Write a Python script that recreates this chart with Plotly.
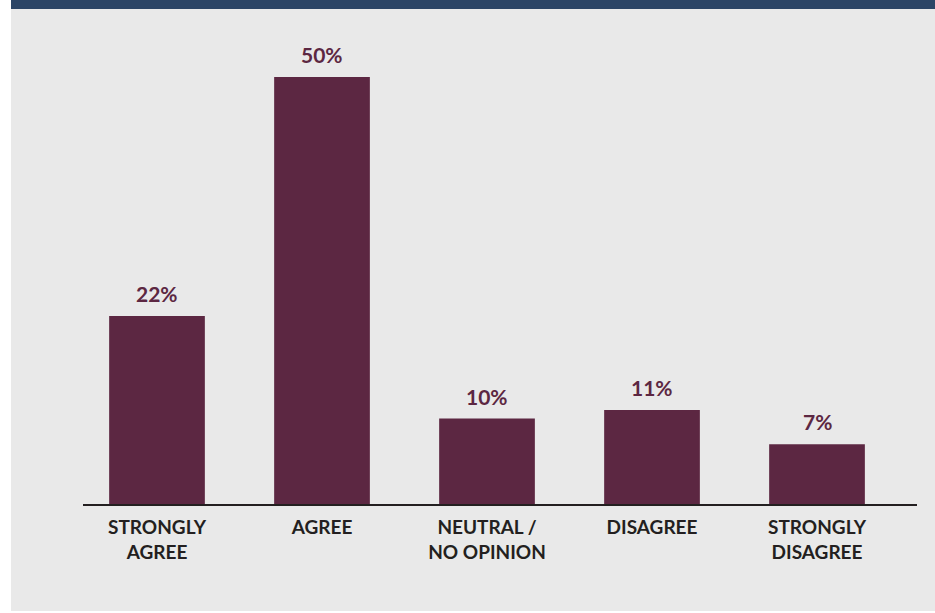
import plotly.graph_objects as go

categories = ["STRONGLY<br>AGREE", "AGREE", "NEUTRAL /<br>NO OPINION", "DISAGREE", "STRONGLY<br>DISAGREE"]
values = [22, 50, 10, 11, 7]
value_labels = ["22%", "50%", "10%", "11%", "7%"]

bar_color = "#5c2742"
panel_color = "#e9e9e9"
band_color = "#2c4566"

fig = go.Figure()
fig.add_trace(go.Bar(
    x=list(range(len(categories))), y=values,
    marker=dict(color=bar_color, line=dict(width=0)),
    width=0.58, hoverinfo="skip",
))

for i, (v, lab) in enumerate(zip(values, value_labels)):
    fig.add_annotation(x=i, y=v, text=f"<b>{lab}</b>", showarrow=False,
                       yanchor="bottom", yshift=8,
                       font=dict(family="Lato", size=21, color=bar_color))

fig.update_layout(
    width=935, height=613,
    margin=dict(l=83, r=18, t=30, b=109),
    paper_bgcolor="white", plot_bgcolor="rgba(0,0,0,0)",
    showlegend=False,
    shapes=[
        dict(type="rect", xref="paper", yref="paper", layer="below",
             x0=-72/834, x1=1 + 18/834, y0=-107/474, y1=1 + 21/474,
             fillcolor=panel_color, line=dict(width=0)),
        dict(type="rect", xref="paper", yref="paper", layer="below",
             x0=-72/834, x1=1 + 18/834, y0=1 + 21/474, y1=1 + 30/474,
             fillcolor=band_color, line=dict(width=0)),
    ],
)
fig.update_xaxes(
    range=[-0.4485, 4.606],
    tickmode="array", tickvals=list(range(len(categories))),
    ticktext=[f"<b>{c}</b>" for c in categories],
    tickfont=dict(family="Lato", size=19, color="#231f20"),
    showline=True, linecolor="#231f20", linewidth=2,
    ticks="outside", ticklen=5, tickcolor="rgba(0,0,0,0)",
    showgrid=False, zeroline=False, fixedrange=True,
)
fig.update_yaxes(range=[0, 55.5], visible=False, showgrid=False, zeroline=False, fixedrange=True)

fig.write_html("out.html", config={"displayModeBar": False, "staticPlot": True},
               post_script="document.body.style.margin='0';document.body.style.overflow='hidden';")
